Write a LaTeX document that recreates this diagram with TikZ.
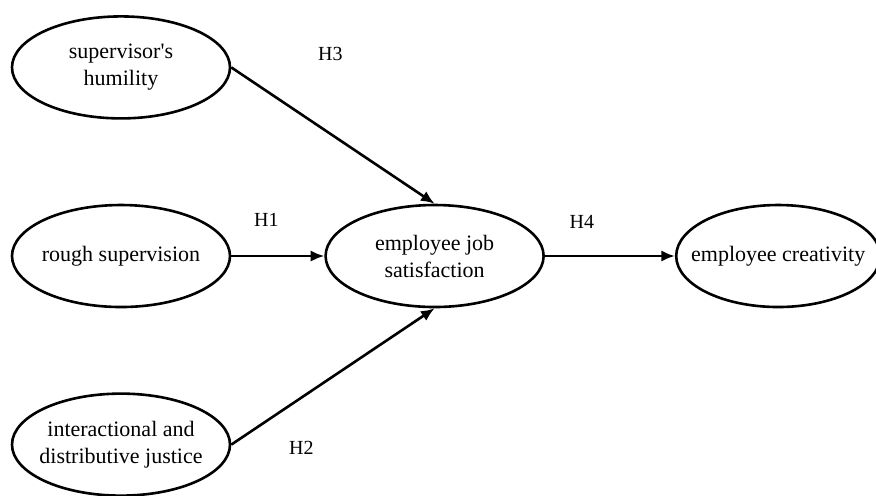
\documentclass[tikz,border=0pt]{standalone}
\usepackage{fontspec}
\setmainfont{Liberation Serif}
\usepackage{tikz}
\usetikzlibrary{arrows.meta,positioning,shapes.geometric}

\begin{document}
\begin{tikzpicture}[
  node distance=42pt and 46.5pt,
  var/.style={draw,ellipse,line width=1.3pt,align=center,font=\fontsize{11}{13.5}\selectfont,
    minimum width=109pt,minimum height=51pt,inner xsep=-3pt,inner ysep=0pt},
  hyp/.style={font=\fontsize{10}{12}\selectfont},
  arr/.style={-{Latex[length=2.4mm,width=2mm]},line width=1.3pt}
]
\useasboundingbox (0,0) rectangle (438pt,-247.5pt);
\node[var] (rough) at (60.5pt,-128pt) {rough supervision};
\node[var, above=of rough] (humil) {supervisor\textquotesingle s\\humility};
\node[var, below=of rough] (justice) {interactional and\\distributive justice};
\node[var, right=of rough] (satis) {employee job\\satisfaction};
\node[var, right=65pt of satis, minimum width=102pt, inner xsep=-10pt] (creat) {employee creativity};

\node[hyp] (h3) at ([xshift=49.5pt,yshift=6.5pt]humil.east) {H3};
\node[hyp] (h1) at ([xshift=17.5pt,yshift=18pt]rough.east) {H1};
\node[hyp] (h4) at ([xshift=18.5pt,yshift=17pt]satis.east) {H4};
\node[hyp] (h2) at ([xshift=35pt,yshift=-1.5pt]justice.east) {H2};

\draw[arr] (humil.east) -- (satis.north);
\draw[arr] (rough) -- (satis);
\draw[arr] (justice.east) -- (satis.south);
\draw[arr] (satis) -- (creat);
\end{tikzpicture}
\end{document}
